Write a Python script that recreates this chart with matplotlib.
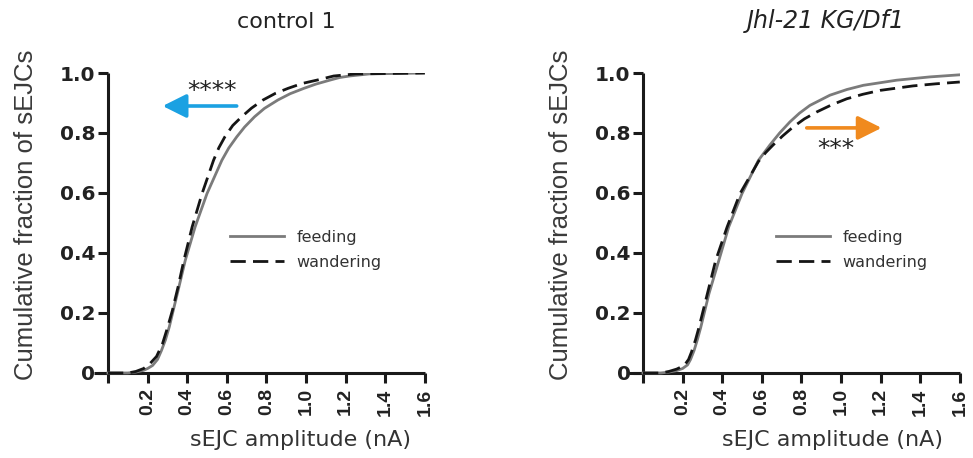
import matplotlib
matplotlib.use("Agg")
import matplotlib.pyplot as plt

plt.rcParams['font.family'] = ['DejaVu Sans']

# ---- data ----
ctrl_feed_x = [0.0, 0.10, 0.14, 0.18, 0.20, 0.225, 0.25, 0.27, 0.29, 0.31, 0.33, 0.35, 0.39, 0.44, 0.50, 0.575, 0.61, 0.65, 0.69, 0.74, 0.79, 0.858, 0.92, 0.99, 1.05, 1.125, 1.17, 1.22, 1.32, 1.60]
ctrl_feed_y = [0.0, 0.0, 0.003, 0.009, 0.015, 0.025, 0.045, 0.075, 0.11, 0.155, 0.21, 0.264, 0.375, 0.487, 0.598, 0.709, 0.75, 0.787, 0.82, 0.854, 0.882, 0.910, 0.931, 0.949, 0.963, 0.977, 0.985, 0.99, 0.997, 1.0]
ctrl_wand_x = [0.0, 0.10, 0.14, 0.18, 0.21, 0.245, 0.275, 0.30, 0.325, 0.355, 0.383, 0.425, 0.475, 0.533, 0.56, 0.59, 0.63, 0.675, 0.725, 0.783, 0.845, 0.91, 0.98, 1.06, 1.14, 1.25, 1.60]
ctrl_wand_y = [0.0, 0.0, 0.005, 0.015, 0.03, 0.055, 0.097, 0.15, 0.208, 0.29, 0.375, 0.487, 0.598, 0.709, 0.751, 0.787, 0.825, 0.854, 0.883, 0.910, 0.932, 0.949, 0.965, 0.977, 0.99, 0.997, 1.0]

mut_feed_x = [0.0, 0.09, 0.13, 0.17, 0.20, 0.225, 0.24, 0.258, 0.275, 0.292, 0.333, 0.383, 0.433, 0.50, 0.583, 0.641, 0.69, 0.742, 0.79, 0.843, 0.944, 1.03, 1.113, 1.281, 1.449, 1.60]
mut_feed_y = [0.0, 0.0, 0.003, 0.008, 0.015, 0.027, 0.045, 0.075, 0.112, 0.153, 0.264, 0.375, 0.487, 0.598, 0.709, 0.76, 0.80, 0.837, 0.866, 0.892, 0.926, 0.945, 0.959, 0.976, 0.987, 0.994]
mut_wand_x = [0.0, 0.09, 0.13, 0.17, 0.208, 0.23, 0.245, 0.265, 0.283, 0.325, 0.367, 0.425, 0.49, 0.583, 0.62, 0.657, 0.705, 0.758, 0.815, 0.877, 0.95, 1.029, 1.11, 1.197, 1.364, 1.48, 1.60]
mut_wand_y = [0.0, 0.0, 0.005, 0.013, 0.025, 0.045, 0.07, 0.11, 0.153, 0.264, 0.375, 0.487, 0.598, 0.705, 0.735, 0.76, 0.79, 0.82, 0.847, 0.87, 0.893, 0.914, 0.929, 0.942, 0.957, 0.964, 0.97]

titles = ["control 1", "Jhl-21 KG/Df1"]
title_styles = ["normal", "italic"]
title_sizes = [16, 17]
series_labels = ["feeding", "wandering"]
xticks = [0.2, 0.4, 0.6, 0.8, 1.0, 1.2, 1.4, 1.6]
xticklabels = ["0.2", "0.4", "0.6", "0.8", "1.0", "1.2", "1.4", "1.6"]
yticks = [0, 0.2, 0.4, 0.6, 0.8, 1.0]
yticklabels = ["0", "0.2", "0.4", "0.6", "0.8", "1.0"]
sig_labels = ["****", "***"]
ylabel_text = "Cumulative fraction of sEJCs"
xlabel_text = "sEJC amplitude (nA)"

W, H = 973, 458
fig = plt.figure(figsize=(W / 100, H / 100), dpi=100)

XMIN, XMAX, YMIN, YMAX = -0.07, 1.6, -0.033, 1.0
PX_PER_X, PX_PER_Y = 198.0, 300.0
Y0_PX = 373.0

def make_ax(x0_px):
    left = x0_px + XMIN * PX_PER_X
    right = x0_px + XMAX * PX_PER_X
    bottom = Y0_PX - YMIN * PX_PER_Y
    top = Y0_PX - YMAX * PX_PER_Y
    return fig.add_axes([left / W, 1 - bottom / H, (right - left) / W, (bottom - top) / H])

def fx(px):
    return px / W

def fy(py):
    return 1 - py / H

axis_px = [108, 643]
axes = [make_ax(p) for p in axis_px]
data = [((ctrl_feed_x, ctrl_feed_y), (ctrl_wand_x, ctrl_wand_y)),
        ((mut_feed_x, mut_feed_y), (mut_wand_x, mut_wand_y))]
title_pos = [(286.5, 28), (826, 28)]
xlabel_pos = [(301, 430), (833, 430)]
ylabel_pos = [(38, 215), (573, 215)]
legend_pos = [(230, 250), (776, 250)]

for i, ax in enumerate(axes):
    (fxs, fys), (wxs, wys) = data[i]
    ax.plot(fxs, fys, color='#7b7b7b', lw=2.0, label=series_labels[0], solid_joinstyle='round', zorder=3)
    ax.plot(wxs, wys, color='#151515', lw=2.0, dashes=(5.5, 2.6), label=series_labels[1], zorder=4)
    ax.set_xlim(XMIN, XMAX)
    ax.set_ylim(YMIN, YMAX)
    for s in ['top', 'right']:
        ax.spines[s].set_visible(False)
    ax.spines['left'].set_position(('data', 0))
    ax.spines['bottom'].set_position(('data', 0))
    for s in ['left', 'bottom']:
        ax.spines[s].set_linewidth(2.2)
        ax.spines[s].set_color('#1a1a1a')
        ax.spines[s].set_capstyle('butt')
    ax.set_xticks(xticks)
    ax.set_xticklabels(xticklabels, rotation=90, fontweight='bold', fontsize=14,
                       family='Liberation Sans', color='#222222')
    ax.set_yticks(yticks)
    ax.set_yticklabels(yticklabels, fontweight='bold', fontsize=14.5, color='#222222')
    ax.tick_params(axis='both', direction='out', length=7.5, width=2.2, color='#1a1a1a')
    ax.tick_params(axis='y', pad=1.5)
    ax.tick_params(axis='x', pad=3.5)
    ax.set_ylabel(ylabel_text, fontsize=18.5, family='Liberation Sans', color='#3a3a3a')
    ax.yaxis.set_label_coords(fx(ylabel_pos[i][0]), fy(ylabel_pos[i][1]), transform=fig.transFigure)
    ax.set_xlabel(xlabel_text, fontsize=16, color='#333333')
    ax.xaxis.set_label_coords(fx(xlabel_pos[i][0]), fy(xlabel_pos[i][1]), transform=fig.transFigure)
    fig.text(fx(title_pos[i][0]), fy(title_pos[i][1]), titles[i], fontsize=title_sizes[i],
             style=title_styles[i], color='#222222', ha='center', va='baseline')
    ax.legend(loc='center left', bbox_to_anchor=(fx(legend_pos[i][0]), fy(legend_pos[i][1])),
              bbox_transform=fig.transFigure, frameon=False,
              fontsize=11.5, handlelength=3.4, borderpad=0, borderaxespad=0, labelspacing=0.62,
              handletextpad=0.75, labelcolor='#333333')

arrow_kw = dict(arrowstyle='-|>,head_length=0.72,head_width=0.36', lw=2.6, shrinkA=0, shrinkB=0,
                mutation_scale=20)
axes[0].annotate("", xy=(0.276, 0.89), xytext=(0.65, 0.89),
                 arrowprops=dict(color='#1ba1e2', **arrow_kw))
axes[0].text(0.524, 0.917, sig_labels[0], ha='center', va='baseline', fontsize=18, color='#222222')
axes[1].annotate("", xy=(1.205, 0.817), xytext=(0.827, 0.817),
                 arrowprops=dict(color='#f08a1e', **arrow_kw))
axes[1].text(0.973, 0.724, sig_labels[1], ha='center', va='baseline', fontsize=18, color='#222222')

fig.savefig("out.png", dpi=100, facecolor='white')
